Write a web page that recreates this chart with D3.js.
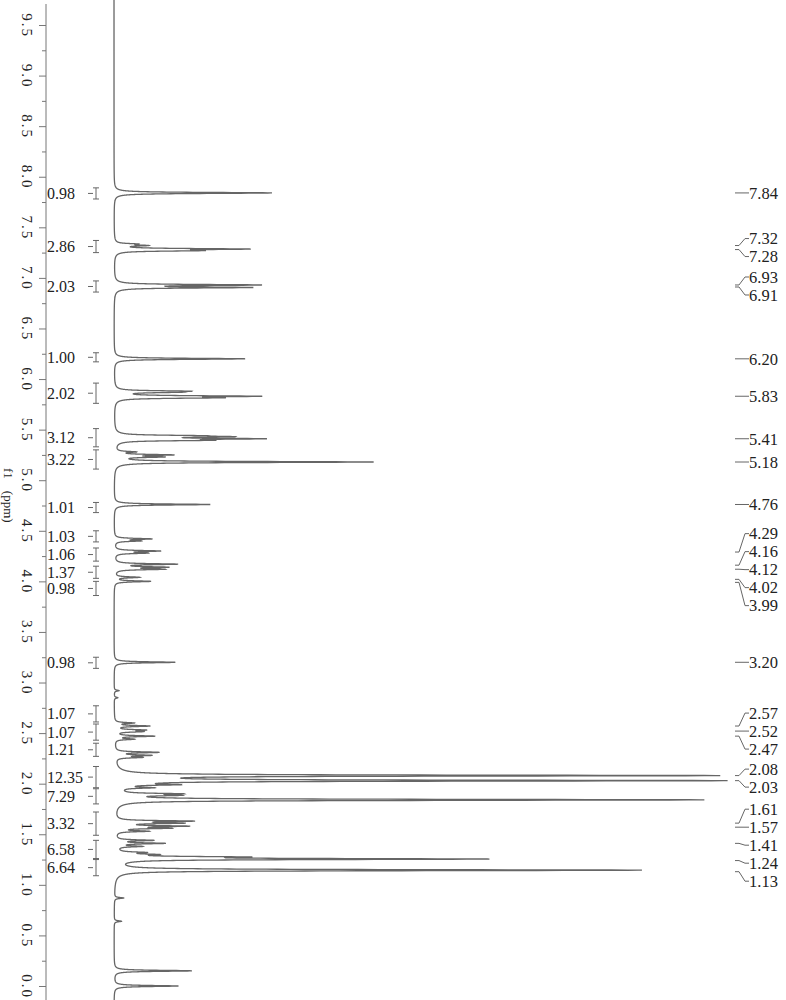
<!DOCTYPE html>
<html>
<head>
<meta charset="utf-8">
<script src="https://cdn.jsdelivr.net/npm/d3@7"></script>
<style>
  html, body { margin: 0; padding: 0; background: #fff; }
  svg { display: block; }
  text { font-family: "Liberation Serif", "Times New Roman", serif; fill: #222; }
</style>
</head>
<body>
<div id="chart"></div>
<script>
// ---------------- DATA ----------------
// Peaks: chemical shift (ppm) and relative intensity (% of tallest)
const peakShifts = [7.84, 7.335, 7.32, 7.285, 7.27, 6.93, 6.905, 6.20, 5.88, 5.87, 5.83, 5.815,
  5.44, 5.43, 5.41, 5.395, 5.28, 5.25, 5.23, 5.18, 4.76, 4.42, 4.40, 4.30, 4.28, 4.17, 4.14, 4.12,
  4.04, 4.00, 3.20, 2.92, 2.85, 2.60, 2.57, 2.53, 2.515, 2.47, 2.44, 2.31, 2.28, 2.26, 2.08, 2.03,
  1.99, 1.96, 1.90, 1.885, 1.84, 1.63, 1.61, 1.58, 1.56, 1.53, 1.44, 1.41, 1.38, 1.32, 1.30,
  1.275, 1.255, 1.145, 0.87, 0.64, 0.15, 0.0];
const peakHeights = [25.8, 3.0, 4.5, 20.5, 12, 23, 21.5, 21.4, 10, 8, 21.8, 15,
  10, 15, 21.5, 13, 3, 8.8, 7, 42.2, 15.7, 5.9, 4, 7.2, 5, 10, 8, 7.5,
  4, 5.9, 10, 0.8, 0.6, 3, 5.6, 4.5, 4, 6.4, 3, 7, 5.5, 4, 97.5, 98.5,
  8, 5, 9, 8, 96, 12, 10, 11, 8, 5, 6, 7.8, 4, 4, 5,
  17, 59.5, 86, 1.5, 1.2, 12.7, 10.5];

// Integration regions (ppm start, ppm end) and integral values
const integralStart = [7.89, 7.37, 6.97, 6.26, 5.96, 5.51, 5.30, 4.78, 4.50, 4.33, 4.15, 4.00,
  3.25, 2.77, 2.59, 2.40, 2.17, 1.95, 1.72, 1.44, 1.25];
const integralEnd = [7.78, 7.25, 6.86, 6.17, 5.76, 5.33, 5.11, 4.68, 4.39, 4.20, 4.03, 3.86,
  3.14, 2.61, 2.43, 2.27, 1.96, 1.80, 1.49, 1.26, 1.09];
const integralValues = ["0.98", "2.86", "2.03", "1.00", "2.02", "3.12", "3.22", "1.01", "1.03",
  "1.06", "1.37", "0.98", "0.98", "1.07", "1.07", "1.21", "12.35", "7.29", "3.32", "6.58", "6.64"];

// Peak picking labels (ppm)
const peakLabels = [7.84, 7.32, 7.28, 6.93, 6.91, 6.20, 5.83, 5.41, 5.18, 4.76, 4.29, 4.16, 4.12,
  4.02, 3.99, 3.20, 2.57, 2.52, 2.47, 2.08, 2.03, 1.61, 1.57, 1.41, 1.24, 1.13];

// Axis ticks (ppm)
const majorTicks = [9.5, 9.0, 8.5, 8.0, 7.5, 7.0, 6.5, 6.0, 5.5, 5.0, 4.5, 4.0, 3.5, 3.0, 2.5,
  2.0, 1.5, 1.0, 0.5, 0.0];
const axisTitle = ["f1", "(ppm)"];

// ---------------- CHART ----------------
const W = 786, H = 1000;
const svg = d3.select("#chart").append("svg").attr("width", W).attr("height", H);
svg.append("rect").attr("width", W).attr("height", H).attr("fill", "#fff");

const y = d3.scaleLinear().domain([9.5, 0]).range([25, 986]);
const x = d3.scaleLinear().domain([0, 100]).range([114, 726]);
const axisX = 46;

// Axis
svg.append("line").attr("x1", axisX).attr("x2", axisX).attr("y1", 4).attr("y2", H)
  .attr("stroke", "#777").attr("stroke-width", 1);
const minorTicks = majorTicks.slice(0, -1).map(t => t - 0.25);
const gMinor = svg.append("g").attr("transform", `translate(${axisX},0)`)
  .call(d3.axisLeft(y).tickValues(minorTicks).tickSize(4).tickFormat(""));
gMinor.select(".domain").remove();
gMinor.selectAll("line").attr("stroke", "#777");
const gMajor = svg.append("g").attr("transform", `translate(${axisX},0)`)
  .call(d3.axisLeft(y).tickValues(majorTicks).tickSize(7).tickFormat(d3.format(".1f")));
gMajor.select(".domain").remove();
gMajor.selectAll("line").attr("stroke", "#777");
gMajor.selectAll("text")
  .attr("x", 0).attr("y", 0).attr("dy", "0.35em")
  .attr("text-anchor", "middle")
  .attr("transform", "translate(-19,0) rotate(90)")
  .style("font-family", "'Liberation Serif', serif")
  .style("font-size", "15px").style("letter-spacing", "2px").attr("fill", "#444");

// Axis title
svg.append("text")
  .attr("transform", "translate(4, 468) rotate(90)")
  .attr("text-anchor", "start")
  .style("font-size", "13px").attr("fill", "#444")
  .selectAll("tspan").data(axisTitle).join("tspan")
  .attr("dx", (d, i) => i ? 12 : 0).text(d => d);

// Spectrum (Lorentzian line shapes at picked peaks)
const g = 0.006;
const peaks = peakShifts.map((p, i) => ({ p, h: peakHeights[i] }));
const grid = d3.range(9.76, -0.15, -0.0005).concat(peakShifts).sort((a, b) => b - a);
const spec = grid.map(p => {
  let s = 0;
  for (const pk of peaks) { const d = p - pk.p; s += pk.h * g * g / (g * g + d * d); }
  return [p, s];
});
const line = d3.line().x(d => x(d[1])).y(d => y(d[0]));
svg.append("path").datum(spec).attr("d", line)
  .attr("fill", "none").attr("stroke", "#666").attr("stroke-width", 1.3);

// Integrals
const integrals = integralValues.map((v, i) => ({ a: integralStart[i], b: integralEnd[i], v }));
const gi = svg.append("g");
integrals.forEach(d => {
  const y1 = y(d.a), y2 = y(d.b), ym = (y1 + y2) / 2;
  gi.append("line").attr("x1", 96).attr("x2", 96).attr("y1", y1).attr("y2", y2);
  gi.append("line").attr("x1", 93).attr("x2", 99).attr("y1", y1).attr("y2", y1);
  gi.append("line").attr("x1", 93).attr("x2", 99).attr("y1", y2).attr("y2", y2);
  gi.append("line").attr("x1", 88).attr("x2", 93).attr("y1", ym).attr("y2", ym);
  svg.append("text").attr("x", 47).attr("y", ym).attr("dy", "0.35em")
    .style("font-size", "16px").text(d.v);
});
gi.selectAll("line").attr("stroke", "#666").attr("stroke-width", 1);

// Peak labels: layout with minimal displacement (pool-adjacent-violators)
const sp = 18;
const desired = peakLabels.map(p => y(p));
const blocks = [];
desired.forEach((d, i) => {
  blocks.push({ sum: d - i * sp, n: 1, start: i });
  while (blocks.length > 1) {
    const b = blocks[blocks.length - 1], a = blocks[blocks.length - 2];
    if (a.sum / a.n > b.sum / b.n) { a.sum += b.sum; a.n += b.n; blocks.pop(); } else break;
  }
});
const labelY = [];
blocks.forEach(b => { for (let k = 0; k < b.n; k++) labelY.push(b.sum / b.n + (b.start + k) * sp); });

const gl = svg.append("g");
peakLabels.forEach((p, i) => {
  const py = desired[i], ly = labelY[i];
  gl.append("path")
    .attr("d", `M735,${py}L739,${py}L745,${ly}L749,${ly}`)
    .attr("fill", "none").attr("stroke", "#666").attr("stroke-width", 1);
  gl.append("text").attr("x", 749).attr("y", ly).attr("dy", "0.35em")
    .style("font-size", "16.5px").text(d3.format(".2f")(p));
});
</script>
</body>
</html>
